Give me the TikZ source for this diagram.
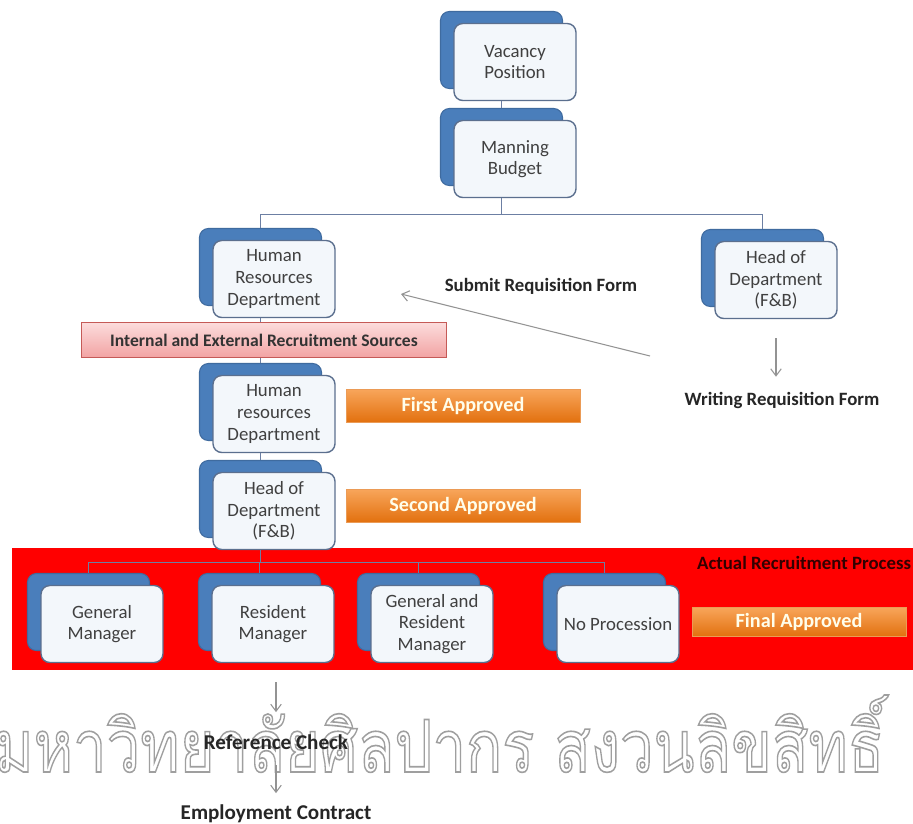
\documentclass[tikz,border=0pt]{standalone}
\usepackage{fontspec}
\setmainfont{Carlito}
\newfontfamily\thaifont[Script=Thai]{Loma}
\usetikzlibrary{shadows}
\usetikzlibrary{arrows.meta}
\tikzset{>={Straight Barb[length=4pt,width=6pt]}}

\definecolor{cardblue}{HTML}{4A7EBB}
\definecolor{cardfill}{HTML}{F3F7FB}
\definecolor{cardline}{HTML}{5B6F8E}
\definecolor{linkcol}{HTML}{6C7FA3}
\definecolor{apptop}{HTML}{F8A55A}
\definecolor{appbot}{HTML}{E2700E}
\definecolor{pinktop}{HTML}{FCDCDC}
\definecolor{pinkbot}{HTML}{F2A3A3}
\definecolor{pinkline}{HTML}{C55A57}

\newcommand{\outlinetext}[1]{\special{pdf:literal direct 1 Tr 0.22 w}#1\special{pdf:literal direct 0 Tr}}

\tikzset{
  card/.style={draw=cardline, line width=0.8pt, rounded corners=5pt, fill=cardfill,
    minimum width=2.44cm, minimum height=1.54cm, align=center, text=black!75,
    font=\fontsize{10.7}{12.3}\selectfont,
    copy shadow={shadow xshift=-0.27cm, shadow yshift=0.24cm, fill=cardblue,
      draw=cardblue!85!black, line width=0.6pt}},
  approve/.style={top color=apptop, bottom color=appbot, draw=appbot!70!white,
    line width=0.5pt, minimum width=4.68cm, minimum height=0.66cm,
    text=yellow!8!white, font=\fontsize{11.5}{13}\selectfont\bfseries},
  sourcebar/.style={top color=pinktop, bottom color=pinkbot, draw=pinkline,
    line width=0.6pt, minimum width=7.3cm, minimum height=0.7cm,
    text=black!80, font=\fontsize{10}{12}\selectfont\bfseries},
  redband/.style={fill=red, minimum width=18.12cm, minimum height=2.44cm, inner sep=0pt},
  note/.style={text=black!85, inner sep=1pt, font=\fontsize{10.7}{12}\selectfont\bfseries},
  bignote/.style={note, font=\fontsize{12}{14}\selectfont\bfseries},
  watermark/.style={text=gray!75, inner sep=0pt},
  link/.style={draw=linkcol, line width=0.8pt},
  pointer/.style={->, draw=gray!85, line width=0.6pt}
}

\begin{document}
\begin{tikzpicture}[x=0.02cm, y=-0.02cm]
  \path[use as bounding box, fill=white] (0,0) rectangle (913,823);

  \node[watermark, anchor=base west] (mark) at (-6,772)
    {\resizebox{17.8cm}{1.54cm}{\thaifont\outlinetext{มหาวิทยาลัยศิลปากร สงวนลิขสิทธิ์}}};

  \node[redband] (band) at (465,609) {};

  \node[card] (vac) at (515,62) {Vacancy\\Position};
  \node[card] (man) at (515,159) {Manning\\Budget};
  \node[card] (hr1) at (274,279) {Human\\Resources\\Department};
  \node[card] (hodtop) at (776,280) {Head of\\Department\\(F\&B)};
  \node[card] (hr2) at (274,414) {Human\\resources\\Department};
  \node[card] (hod2) at (274,511) {Head of\\Department\\(F\&B)};
  \node[card] (gm) at (102,624) {General\\Manager};
  \node[card] (rm) at (273,624) {Resident\\Manager};
  \node[card] (grm) at (432,624) {General and\\Resident\\Manager};
  \node[card] (np) at (618,624) {No Procession};

  % tree lines
  \draw[link] ([xshift=-0.27cm]vac.south) -- ([xshift=-0.27cm,yshift=0.24cm]man.north);
  \draw[link] ([xshift=-0.27cm]man.south) -- ++(0,16) coordinate (split)
    -| ([xshift=-0.27cm,yshift=0.24cm]hr1.north);
  \draw[link] (split) -| ([xshift=-0.27cm,yshift=0.24cm]hodtop.north);
  \draw[link] ([xshift=-0.27cm]hr1.south) -- ([xshift=-0.27cm,yshift=0.24cm]hr2.north);
  \draw[link] ([xshift=-0.27cm]hr2.south) -- ([xshift=-0.27cm,yshift=0.24cm]hod2.north);
  \draw[link] ([xshift=-0.27cm]hod2.south) -- ++(0,12) coordinate (fork);
  \foreach \k in {gm,rm,grm,np}
    \draw[link] (fork) -| ([xshift=-0.27cm,yshift=0.24cm]\k.north);

  \node[sourcebar] (sources) at (264,340) {Internal and External Recruitment Sources};
  \node[approve] (first) at (463,406) {First Approved};
  \node[approve] (second) at (463,506) {Second Approved};
  \node[approve, minimum width=4.28cm, minimum height=0.58cm] (final) at (799,622) {Final Approved};

  \node[note, anchor=base] (submit) at (541,291) {Submit Requisition Form};
  \node[note, anchor=base] (writing) at (782,405) {Writing Requisition Form};
  \node[note, anchor=base west, text=black!80!red] (actual) at (695,569) {Actual Recruitment Process};
  \node[bignote, anchor=base] (refchk) at (276,749) {Reference Check};
  \node[bignote, anchor=base] (contract) at (276,819) {Employment Contract};

  \coordinate (subfrom) at (650,356);
  \coordinate (subto) at (401,294);
  \draw[pointer] (subfrom) -- (subto);
  \draw[pointer, shorten <=0.38cm, shorten >=0.26cm] (hodtop.south) -- (hodtop.south |- writing.north);
  \draw[pointer, shorten <=0.24cm, shorten >=0.4cm] (refchk.north |- band.south) -- (refchk.north);
  \draw[pointer, shorten <=0.27cm, shorten >=0.18cm] (refchk.south) -- (contract.north);
\end{tikzpicture}
\end{document}
